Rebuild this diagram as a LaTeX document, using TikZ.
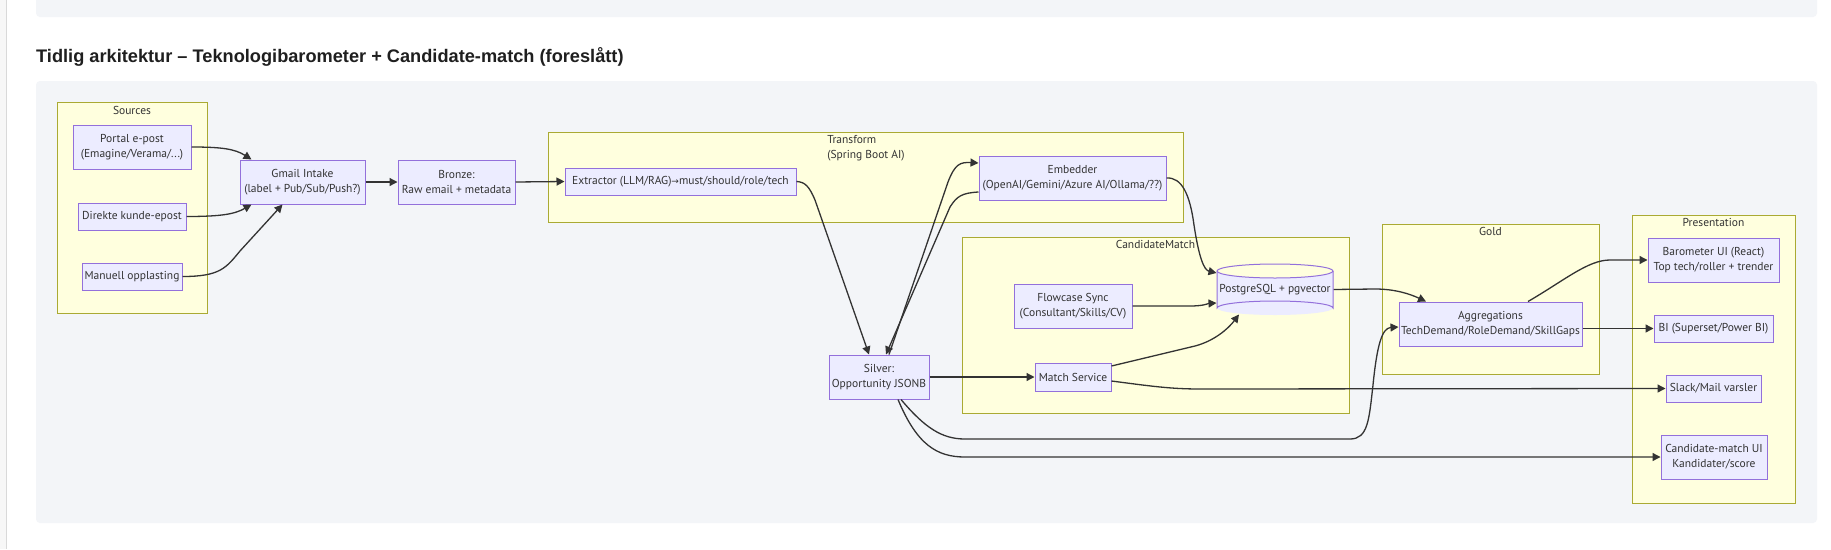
\documentclass[tikz,border=0pt]{standalone}
\usepackage{fontspec}
\setmainfont{PT Sans}
\newfontfamily\titlefont{Liberation Sans}
\newfontfamily\symfont{DejaVu Sans}
\usetikzlibrary{arrows.meta,calc}
\definecolor{panel}{HTML}{F3F5F8}
\definecolor{nodefill}{HTML}{ECECFF}
\definecolor{nodeline}{HTML}{9370DB}
\definecolor{clfill}{HTML}{FFFFDE}
\definecolor{clline}{HTML}{AAAA33}
\definecolor{ink}{HTML}{333333}
\begin{document}
\begin{tikzpicture}[x=1pt,y=-1pt,
  box/.style={draw=nodeline, fill=nodefill, line width=1pt, inner sep=0pt, align=center, text=ink, font=\fontsize{11.5}{15}\selectfont},
  cluster/.style={draw=clline, fill=clfill, line width=1pt, inner sep=0pt},
  clabel/.style={text=ink, font=\fontsize{11.5}{15}\selectfont, inner sep=0pt, align=center},
  arr/.style={draw=ink, line width=1.3pt, -{Triangle[length=8pt,width=8pt]}},
]
\useasboundingbox (0,0) rectangle (1831,549);
\fill[white] (0,0) rectangle (1831,549);
\fill[black!3] (0,0) rectangle (6,549);
\draw[black!15] (6.5,0) -- (6.5,549);
\fill[panel, rounded corners=4pt] (36,-10) rectangle (1817,17);
\node[anchor=west, inner sep=0pt, text=black!88, font=\titlefont\bfseries\fontsize{18.2}{22}\selectfont] (title) at (36,57) {Tidlig arkitektur – Teknologibarometer + Candidate-match (foreslått)};
\fill[panel, rounded corners=4pt] (36,81) rectangle (1817,523);

% clusters
\node[cluster, minimum width=150pt, minimum height=211pt] (sources) at (132,207.5) {};
\node[clabel] (sourceslbl) at (132,110) {Sources};
\node[cluster, minimum width=635pt, minimum height=90pt] (transform) at (865.5,177) {};
\node[clabel, align=left] (transformlbl) at (866,148) {Transform\\(Spring Boot AI)};
\node[cluster, minimum width=387pt, minimum height=176pt] (cmatch) at (1155.5,325) {};
\node[clabel] (cmatchlbl) at (1155.5,244) {CandidateMatch};
\node[cluster, minimum width=217pt, minimum height=150pt] (gold) at (1490.5,299) {};
\node[clabel] (goldlbl) at (1490.5,231) {Gold};
\node[cluster, minimum width=163pt, minimum height=288pt] (present) at (1713.5,359) {};
\node[clabel] (presentlbl) at (1713.5,222) {Presentation};

% nodes
\node[box, minimum width=118pt, minimum height=44pt] (portal) at (132,147) {Portal e-post\\(Emagine/Verama/...)};
\node[box, minimum width=108pt, minimum height=27pt] (direkte) at (132,216.5) {Direkte kunde-epost};
\node[box, minimum width=100pt, minimum height=27pt] (manuell) at (132,276.5) {Manuell opplasting};
\node[box, minimum width=125pt, minimum height=44pt] (gmail) at (302.5,182) {Gmail Intake\\(label + Pub/Sub/Push?)};
\node[box, minimum width=117pt, minimum height=44pt] (bronze) at (456.5,182) {Bronze:\\Raw email + metadata};
\node[box, minimum width=231pt, minimum height=27pt] (extractor) at (680.5,181.5) {Extractor (LLM/RAG){\symfont\fontsize{9}{10}\selectfont →}must/should/role/tech};
\node[box, minimum width=187pt, minimum height=44pt] (embedder) at (1072.5,178) {Embedder\\(OpenAI/Gemini/Azure AI/Ollama/??)};
\node[box, minimum width=100pt, minimum height=44pt] (silver) at (879,377) {Silver:\\Opportunity JSONB};
\node[box, minimum width=118pt, minimum height=44pt] (flowcase) at (1073,306) {Flowcase Sync\\(Consultant/Skills/CV)};
\node[box, minimum width=76pt, minimum height=28pt] (match) at (1073,377) {Match Service};
% cylinder
\fill[nodefill] (1217,271) -- (1217,308) arc[start angle=180, end angle=360, x radius=58pt, y radius=7pt] -- (1333,271) arc[start angle=0, end angle=180, x radius=58pt, y radius=-7pt] -- cycle;
\draw[nodeline, line width=1pt] (1217,271) -- (1217,308) arc[start angle=180, end angle=360, x radius=58pt, y radius=-7pt] -- (1333,271);
\draw[nodeline, line width=1pt] (1275,271) ellipse[x radius=58pt, y radius=7pt];
\node[box, draw=none, fill=none, minimum width=116pt, minimum height=51pt] (pg) at (1275,289.5) {PostgreSQL + pgvector};
\node[box, minimum width=183pt, minimum height=44pt] (agg) at (1490.5,324) {Aggregations\\TechDemand/RoleDemand/SkillGaps};
\node[box, minimum width=131pt, minimum height=44pt] (barometer) at (1713.5,260) {Barometer UI (React)\\Top tech/roller + trender};
\node[box, minimum width=119pt, minimum height=27pt] (bi) at (1713.5,328.5) {BI (Superset/Power BI)};
\node[box, minimum width=95pt, minimum height=27pt] (slack) at (1713.5,388.5) {Slack/Mail varsler};
\node[box, minimum width=106pt, minimum height=44pt] (cmui) at (1714,457) {Candidate-match UI\\Kandidater/score};

% edges
\draw[arr] (portal.east) .. controls (222,147) and (235,149) .. ([xshift=12pt]gmail.north west);
\draw[arr] (direkte.east) .. controls (222,216.5) and (235,214) .. ([xshift=12pt]gmail.south west);
\draw[arr] (manuell.east) .. controls (220,276.5) and (226,268) .. (240,251) -- ([xshift=43pt]gmail.south west);
\draw[arr] (gmail.east) -- (bronze.west);
\draw[arr] (bronze.east) -- (extractor.west);
\draw[arr] (extractor.east) .. controls (805,182) and (809,186) .. (815,200) -- ([xshift=-10pt]silver.north);
\draw[arr] ([xshift=10pt]silver.north) -- (948,182) .. controls (955,164) and (960,162) .. ([yshift=15pt]embedder.west);
\draw[arr] ([yshift=-14pt]embedder.west) .. controls (962,193) and (957,196) .. (950,207) -- ([xshift=7pt]silver.north);
\draw[arr] (silver.east) -- (match.west);
\draw[arr] ([xshift=22pt]silver.south) .. controls (925,428) and (942,439) .. (965,439) -- (1350,439) .. controls (1368,439) and (1369,420) .. (1373,385) .. controls (1377,345) and (1382,328) .. ([yshift=-3pt]agg.west);
\draw[arr] ([xshift=19pt]silver.south) .. controls (917,445) and (937,457) .. (965,457) -- (cmui.west);
\draw[arr] (flowcase.east) -- (1190,306) .. controls (1204,306) and (1208,303.5) .. ([yshift=-13.5pt]pg.west);
\draw[arr] ([yshift=11pt]match.east) -- (1195,346) .. controls (1214,341) and (1228,329) .. ([xshift=-36pt,yshift=1pt]pg.south);
\draw[arr] (embedder.east) .. controls (1182,177) and (1190,195) .. (1194,225) .. controls (1199,258) and (1204,270) .. ([yshift=16.5pt]pg.west);
\draw[arr] (pg.east) -- (1375,289) .. controls (1395,289) and (1410,294) .. ([xshift=-64.5pt]agg.north);
\draw[arr] ([xshift=37.5pt]agg.north) .. controls (1565,280) and (1588,260) .. (1610,260) -- (barometer.west);
\draw[arr] (agg.east |- bi.west) -- (bi.west);
\draw[arr] ([yshift=-4pt]match.east) .. controls (1150,386) and (1170,389) .. (1200,389) -- (slack.west);
\end{tikzpicture}
\end{document}
